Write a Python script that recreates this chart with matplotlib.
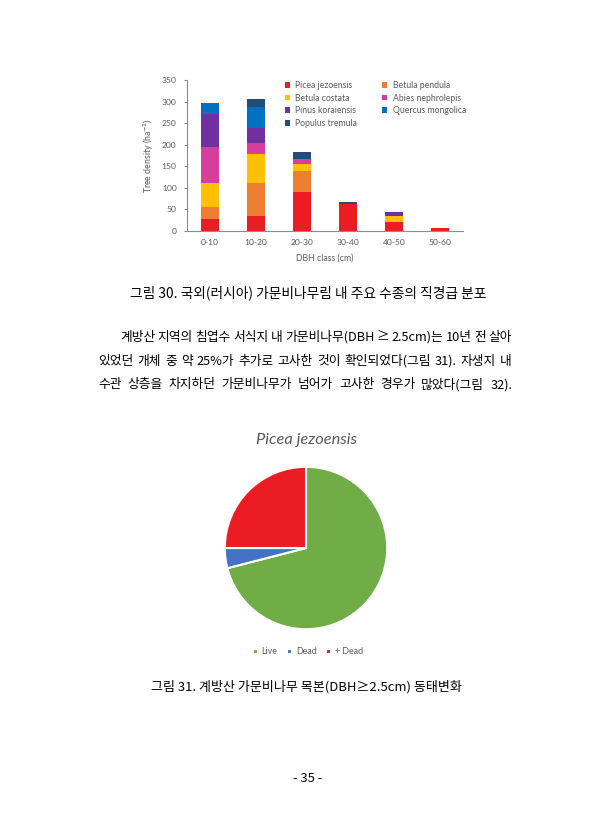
import matplotlib
matplotlib.use('Agg')
import matplotlib.pyplot as plt
import numpy as np

W, H = 613, 840
fig = plt.figure(figsize=(W / 100, H / 100), dpi=100)
fig.patch.set_facecolor('white')

CHART_FONT = ['Lato', 'DejaVu Sans']
KR_FONT = ['Noto Sans CJK KR', 'DejaVu Sans']

# ---------------- data ----------------
categories = ['0-10', '10-20', '20-30', '30-40', '40-50', '50-60']
species = ['Picea jezoensis', 'Betula pendula', 'Betula costata', 'Abies nephrolepis',
           'Pinus koraiensis', 'Quercus mongolica', 'Populus tremula']
picea = [27, 35, 90, 62, 21, 6]
betula_pendula = [29, 76, 49, 0, 0, 0]
betula_costata = [55, 67, 17, 0, 13, 0]
abies = [83, 27, 11, 0, 0, 0]
pinus = [78, 34, 0, 0, 11, 0]
quercus = [24, 49, 0, 0, 0, 0]
populus = [0, 18, 17, 5, 0, 0]
yticks = [0, 50, 100, 150, 200, 250, 300, 350]

pie_labels = ['Live', 'Dead', '+ Dead']
pie_values = [71, 4, 25]

species_colors = ['#EC1C24', '#ED7D31', '#FFC000', '#D63D9E', '#7030A0', '#0070C0', '#1F4E79']
pie_colors = ['#70AD47', '#4472C4', '#EC1C24']

# ---------------- bar chart ----------------
ax = fig.add_axes([187 / W, 1 - 231 / H, 276 / W, 151 / H])
series = [picea, betula_pendula, betula_costata, abies, pinus, quercus, populus]
x = np.arange(len(categories))
bottom = np.zeros(len(categories))
handles = []
for name, vals, col in zip(species, series, species_colors):
    b = ax.bar(x, vals, width=0.41, bottom=bottom, color=col, label=name)
    handles.append(b)
    bottom += np.array(vals)

ax.set_xlim(-0.5, len(categories) - 0.5)
ax.set_ylim(0, 350)
ax.set_yticks(yticks)
ax.set_xticks(x)
ax.set_xticklabels(categories)
for s in ['top', 'right']:
    ax.spines[s].set_visible(False)
for s in ['left', 'bottom']:
    ax.spines[s].set_color('#8c8c8c')
    ax.spines[s].set_linewidth(0.8)
ax.tick_params(axis='y', length=2.5, width=0.8, color='#8c8c8c', labelsize=6.1,
               labelcolor='#595959', pad=5)
ax.tick_params(axis='x', length=0, labelsize=6.1, labelcolor='#595959', pad=6)
for lab in ax.get_xticklabels() + ax.get_yticklabels():
    lab.set_family(CHART_FONT)
ax.set_ylabel('Tree density (ha$^{-1}$)', fontsize=6.3, color='#595959',
              family=CHART_FONT, labelpad=4)
ax.set_xlabel('DBH class (cm)', fontsize=6.3, color='#595959', family=CHART_FONT,
              labelpad=5)

order = [0, 2, 4, 6, 1, 3, 5]
leg = ax.legend([handles[i] for i in order], [species[i] for i in order],
                ncol=2, loc='upper left', bbox_to_anchor=(285 / W, 1 - 81 / H),
                bbox_transform=fig.transFigure, frameon=False,
                prop={'family': CHART_FONT, 'size': 6.2},
                handlelength=0.6, handleheight=0.6, handletextpad=0.6,
                labelspacing=0.42, columnspacing=2.9, borderpad=0, borderaxespad=0)
for t in leg.get_texts():
    t.set_color('#595959')

# ---------------- page text ----------------
def ftext(xp, yp, s, **kw):
    return fig.text(xp / W, 1 - yp / H, s, family=KR_FONT, **kw)

ftext(308, 293, '그림 30. 국외(러시아) 가문비나무림 내 주요 수종의 직경급 분포',
      ha='center', va='center', fontsize=9.9)

renderer = fig.canvas.get_renderer()

def justify(s, x0, x1, yp, size):
    words = s.split(' ')
    objs = [ftext(0, yp, w, ha='left', va='center', fontsize=size) for w in words]
    widths = [o.get_window_extent(renderer).width for o in objs]
    gap = (x1 - x0 - sum(widths)) / max(len(words) - 1, 1)
    cx = x0
    for o, w in zip(objs, widths):
        o.set_x(cx / W)
        cx += w + gap

para = [
    ('계방산 지역의 침엽수 서식지 내 가문비나무(DBH ≥ 2.5cm)는 10년 전 살아', 120, 337),
    ('있었던 개체 중 약 25%가 추가로 고사한 것이 확인되었다(그림 31). 자생지 내', 98, 361),
    ('수관 상층을 차지하던 가문비나무가 넘어가 고사한 경우가 많았다(그림 32).', 98, 385),
]
for s, x0, yp in para:
    justify(s, x0, 512, yp, 9.2)

ftext(306, 687, '그림 31. 계방산 가문비나무 목본(DBH≥2.5cm) 동태변화',
      ha='center', va='center', fontsize=9.4)
ftext(308, 779, '- 35 -', ha='center', va='center', fontsize=9.4)

# ---------------- pie chart ----------------
r = 82
pax = fig.add_axes([(306 - r) / W, 1 - (548 + r) / H, 2 * r / W, 2 * r / H])
wedges, _ = pax.pie(pie_values, colors=pie_colors, startangle=90, counterclock=False,
                    wedgeprops={'edgecolor': 'white', 'linewidth': 1.5})
pax.set_xlim(-1.01, 1.01)
pax.set_ylim(-1.01, 1.01)
pax.set_aspect('equal')

fig.text(307 / W, 1 - 440 / H, 'Picea jezoensis', ha='center', va='center',
         fontsize=11.8, style='italic', color='#595959', family=CHART_FONT)

pleg = pax.legend(wedges, pie_labels, ncol=3, loc='center',
                  bbox_to_anchor=(308 / W, 1 - 652 / H), bbox_transform=fig.transFigure,
                  frameon=False, prop={'family': CHART_FONT, 'size': 6.4},
                  handlelength=0.55, handleheight=0.55, handletextpad=0.4,
                  columnspacing=1.1, borderpad=0)
for t in pleg.get_texts():
    t.set_color('#595959')

fig.savefig('out.png', dpi=100, facecolor='white')
